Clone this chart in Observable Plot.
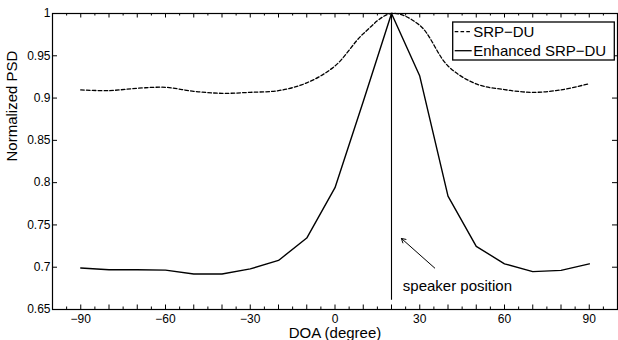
<!DOCTYPE html>
<html>
<head>
<meta charset="utf-8">
<script src="https://cdn.jsdelivr.net/npm/d3@7"></script>
<script src="https://cdn.jsdelivr.net/npm/@observablehq/plot@0.6"></script>
<style>
  html, body { margin: 0; padding: 0; background: white; }
</style>
</head>
<body>
<div id="chart"></div>
<script>
// ---- data ----
const doa = [-90, -80, -70, -60, -50, -40, -30, -20, -10, 0, 10, 20, 30, 40, 50, 60, 70, 80, 90];
const srpDU = [0.9097, 0.9088, 0.9116, 0.9127, 0.9080, 0.9056, 0.9068, 0.9088, 0.9180, 0.9380, 0.9760, 1.0000, 0.9860, 0.9380, 0.9167, 0.9100, 0.9068, 0.9097, 0.9170];
const enhancedSRPDU = [0.6990, 0.6970, 0.6970, 0.6965, 0.6920, 0.6920, 0.6980, 0.7080, 0.7345, 0.7940, 0.8960, 1.0000, 0.9260, 0.7840, 0.7247, 0.7040, 0.6948, 0.6963, 0.7040];
const seriesNames = ["SRP\u2212DU", "Enhanced SRP\u2212DU"];
const xTickLabels = [-90, -60, -30, 0, 30, 60, 90];
const xMajorTicks = [-100, -90, -80, -70, -60, -50, -40, -30, -20, -10, 0, 10, 20, 30, 40, 50, 60, 70, 80, 90, 100];
const xMinorTicks = [-95, -85, -75, -65, -55, -45, -35, -25, -15, -5, 5, 15, 25, 35, 45, 55, 65, 75, 85, 95];
const yTicks = [0.65, 0.7, 0.75, 0.8, 0.85, 0.9, 0.95, 1];
const speakerDOA = [20];
const speakerLineBottom = [0.661];
const annotationText = ["speaker position"];
const annotationPos = [{x: 24, y: 0.6775}];
const arrowFrom = [{x: 35.3, y: 0.699}];
const arrowTo = [{x: 23.5, y: 0.734}];

// ---- table for marks ----
const rows = [];
doa.forEach((d, i) => {
  rows.push({doa: d, psd: srpDU[i], series: seriesNames[0]});
  rows.push({doa: d, psd: enhancedSRPDU[i], series: seriesNames[1]});
});
const seriesDash = ["3.6,2.2", null];

const W = 618, H = 340, mL = 52, mR = 1, mT = 13, mB = 31;
const frameW = W - mL - mR, frameH = H - mT - mB;

const fmtX = d => d < 0 ? "\u2212" + Math.abs(d) : String(d);
const fmtY = d => String(+d.toFixed(2));

const legend = (index, scales, values, dims) => {
  const right = dims.width - dims.marginRight;
  const bx = right - 164.3, by = dims.marginTop + 9, bw = 161.6, bh = 38;
  const g = d3.create("svg:g").attr("font-size", 15).attr("text-anchor", "start");
  g.append("rect").attr("x", bx).attr("y", by).attr("width", bw).attr("height", bh)
    .attr("fill", "white").attr("stroke", "black").attr("stroke-width", 1.3);
  seriesNames.forEach((name, i) => {
    const y = by + 9.7 + i * 19;
    g.append("line").attr("x1", bx + 2).attr("x2", bx + 19).attr("y1", y).attr("y2", y)
      .attr("stroke", "black").attr("stroke-width", 1.3)
      .attr("stroke-dasharray", seriesDash[i]);
    g.append("text").attr("x", bx + 20.5).attr("y", y).attr("dy", "0.35em")
      .attr("text-anchor", "start").attr("fill", "black").text(name);
  });
  return g.node();
};

const chart = Plot.plot({
  width: W,
  height: H,
  marginLeft: mL,
  marginRight: mR,
  marginTop: mT,
  marginBottom: mB,
  style: {fontFamily: "'Liberation Sans', Arial, sans-serif", fontSize: "12px", background: "white", color: "black"},
  x: {domain: [-100, 100]},
  y: {domain: [0.65, 1]},
  marks: [
    // data lines
    Plot.line(rows.filter(r => r.series === seriesNames[0]), {x: "doa", y: "psd", stroke: "black", strokeWidth: 1.3, strokeDasharray: seriesDash[0], curve: "catmull-rom"}),
    Plot.line(rows.filter(r => r.series === seriesNames[1]), {x: "doa", y: "psd", stroke: "black", strokeWidth: 1.4, curve: "linear"}),
    // speaker position
    Plot.ruleX(speakerDOA, {x: d => d, y1: speakerLineBottom[0], y2: 1, stroke: "black", strokeWidth: 1.1}),
    Plot.arrow([0], {x1: () => arrowFrom[0].x, y1: () => arrowFrom[0].y, x2: () => arrowTo[0].x, y2: () => arrowTo[0].y, stroke: "black", strokeWidth: 1, headLength: 7, bend: 0}),
    Plot.text(annotationText, {x: () => annotationPos[0].x, y: () => annotationPos[0].y, text: d => d, textAnchor: "start", lineAnchor: "middle", fontSize: 15, fill: "black"}),
    // frame
    Plot.frame({stroke: "black", strokeWidth: 1.2}),
    // inward ticks
    Plot.tickX(xMajorTicks, {x: d => d, insetTop: frameH - 4.5, stroke: "black"}),
    Plot.tickX(xMajorTicks, {x: d => d, insetBottom: frameH - 4.5, stroke: "black"}),
    Plot.tickX(xMinorTicks, {x: d => d, insetTop: frameH - 2.5, stroke: "black"}),
    Plot.tickX(xMinorTicks, {x: d => d, insetBottom: frameH - 2.5, stroke: "black"}),
    Plot.tickY(yTicks, {y: d => d, insetRight: frameW - 5, stroke: "black"}),
    Plot.tickY(yTicks, {y: d => d, insetLeft: frameW - 5, stroke: "black"}),
    // axes labels
    Plot.axisX(xTickLabels, {tickSize: 0, tickPadding: 5, label: null, tickFormat: fmtX, fontSize: 12, fill: "black"}),
    Plot.axisY(yTicks, {tickSize: 0, tickPadding: 2, label: null, tickFormat: fmtY, fontSize: 12, fill: "black"}),
    Plot.text(["DOA (degree)"], {frameAnchor: "bottom", dy: 23.5, lineAnchor: "middle", fontSize: 15, fill: "black", text: d => d}),
    Plot.text(["Normalized PSD"], {frameAnchor: "left", dx: -40.8, rotate: -90, lineAnchor: "middle", fontSize: 15, fill: "black", text: d => d}),
    legend
  ]
});
document.getElementById("chart").appendChild(chart);
</script>
</body>
</html>
